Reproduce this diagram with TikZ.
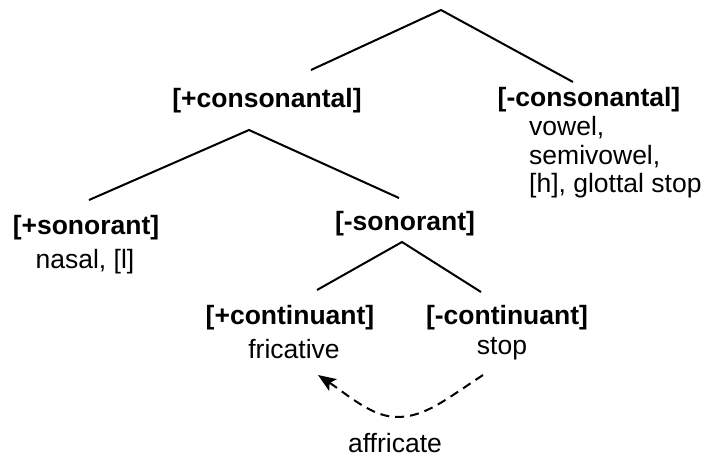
\documentclass[tikz,border=0pt]{standalone}
\usepackage{fontspec}
\setmainfont{Liberation Sans}
\usetikzlibrary{arrows.meta}
\begin{document}
\begin{tikzpicture}[x=1pt,y=-1pt,
  feat/.style={font=\fontsize{26.5}{30}\selectfont\bfseries, inner sep=0pt},
  ex/.style={font=\fontsize{26.5}{30}\selectfont, inner sep=0pt},
  branch/.style={line width=2pt},
  dashlink/.style={line width=2pt, dash pattern=on 9pt off 6pt, -{Stealth[length=18pt,width=14pt,inset=4pt]}}]
\useasboundingbox (0,0) rectangle (707,458);
% coordinates of the tree
\coordinate (root) at (441,10);
\coordinate (rootL) at (311,70);
\coordinate (rootR) at (573,82);
\coordinate (consA) at (249,130);
\coordinate (consL) at (89,200);
\coordinate (consR) at (399,198);
\coordinate (sonoA) at (402,242);
\coordinate (sonoL) at (317,290);
\coordinate (sonoR) at (481,292);
% labels
\node[feat] (pcons) at (267,101) {[+consonantal]};
\node[feat] (mcons) at (589,100) {[-consonantal]};
\node[ex, anchor=west] (vow) at (529,128) {vowel,};
\node[ex, anchor=west] (semi) at (529,157) {semivowel,};
\node[ex, anchor=west] (glot) at (529,186) {[h], glottal stop};
\node[feat] (psono) at (86,228) {[+sonorant]};
\node[ex] (nasal) at (85,262) {nasal, [l]};
\node[feat] (msono) at (405,224) {[-sonorant]};
\node[feat] (pcont) at (290,318) {[+continuant]};
\node[ex] (fric) at (294,349) {fricative};
\node[feat] (mcont) at (507,318) {[-continuant]};
\node[ex] (stop) at (502,349) {stop};
\node[ex] (affr) at (395,443) {affricate};
% branches
\draw[branch] (rootL) -- (root) -- (rootR);
\draw[branch] (consL) -- (consA) -- (consR);
\draw[branch] (sonoL) -- (sonoA) -- (sonoR);
% dashed arrow
\coordinate (dstart) at (483,375);
\coordinate (dmid) at (397,417);
\coordinate (dend) at (318,375);
\draw[dashlink] (dstart) .. controls (445,400) and (425,417) .. (dmid) .. controls (372,417) and (348,395) .. (dend);
\end{tikzpicture}
\end{document}
